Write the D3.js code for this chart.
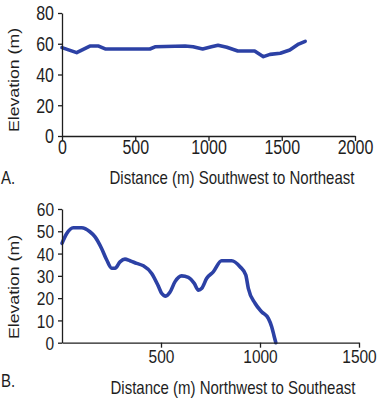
<!DOCTYPE html>
<html><head><meta charset="utf-8">
<script src="https://cdn.jsdelivr.net/npm/d3@7"></script>
<style>
html,body{margin:0;padding:0;background:#fff;}
svg{display:block;}
text{font-family:"Liberation Sans",Arial,sans-serif;fill:#1e1e1e;}
</style></head>
<body>
<svg id="c" width="380" height="400"></svg>
<script>
// Profile A: Southwest to Northeast
const distA = [0, 100, 190, 250, 295, 600, 635, 840, 895, 960, 1020, 1065, 1125, 1200, 1315, 1375, 1420, 1490, 1555, 1615, 1660];
const elevA = [57.5, 54.2, 58.5, 58.5, 56.6, 56.6, 58, 58.5, 58, 56.6, 58, 59, 57.7, 55.3, 55.3, 51.6, 53.1, 53.8, 55.9, 59.8, 61.6];
// Profile B: Northwest to Southeast
const distB = [0, 24, 57, 99, 141, 167, 200, 226, 251, 268, 293, 318, 343, 377, 411, 453, 486, 503, 524, 545, 571, 604, 638, 668, 689, 706, 731, 764, 806, 857, 899, 928, 941, 975, 1008, 1042, 1059, 1072, 1080];
const elevB = [44.6, 49, 51.6, 51.6, 49.8, 47.5, 42.3, 37.1, 33.4, 33.4, 36.3, 37.5, 36.8, 35.6, 34.5, 31.1, 25.5, 22.2, 20.9, 22.6, 27.4, 30, 29.3, 26.6, 23.6, 24.4, 28.9, 31.8, 36.8, 36.8, 34.1, 30.4, 24.4, 17.7, 13.9, 10.9, 7.2, 2.7, 0];
const ticksAX = [0, 500, 1000, 1500, 2000];
const ticksAY = [0, 20, 40, 60, 80];
const ticksBX = [500, 1000, 1500];
const ticksBY = [0, 10, 20, 30, 40, 50, 60];
const labelsA = {panel: "A.", x: "Distance (m) Southwest to Northeast", y: "Elevation (m)"};
const labelsB = {panel: "B.", x: "Distance (m) Northwest to Southeast", y: "Elevation (m)"};

const svg = d3.select("#c");
const LINE = "#2c41a5";
const FS = 15, SY = 1.22;

function panel(cfg) {
  const x = d3.scaleLinear().domain(cfg.xd).range(cfg.xr);
  const y = d3.scaleLinear().domain(cfg.yd).range(cfg.yr);
  const g = svg.append("g");
  // line
  const data = cfg.dist.map((d, i) => [d, cfg.elev[i]]);
  g.append("path").datum(data)
    .attr("fill", "none").attr("stroke", LINE).attr("stroke-width", 3.6)
    .attr("stroke-linejoin", "round").attr("stroke-linecap", "round")
    .attr("d", d3.line().x(d => x(d[0])).y(d => y(d[1])).curve(cfg.curve));
  // x axis
  const ax = g.append("g").attr("transform", `translate(0,${cfg.yr[0]})`)
    .call(d3.axisBottom(x).tickValues(cfg.xt).tickSizeInner(5).tickSizeOuter(0).tickFormat(d3.format("d")));
  ax.selectAll("text").attr("y", 0).attr("dy", 0)
    .attr("transform", `translate(0,${cfg.xlab}) scale(1,${SY})`)
    .style("font-size", cfg.tfs + "px").style("font-family", "Liberation Sans, Arial");
  // y axis
  const ay = g.append("g").attr("transform", `translate(${cfg.xr[0]},0)`)
    .call(d3.axisLeft(y).tickValues(cfg.yt).tickSizeInner(4).tickSizeOuter(0).tickPadding(4));
  ay.selectAll("text").attr("dy", "0.35em")
    .attr("transform", `scale(1,${SY})`)
    .style("font-size", cfg.tfs + "px").style("font-family", "Liberation Sans, Arial");
  [ax, ay].forEach(a => {
    a.selectAll("path,line").attr("stroke", "#1e1e1e").attr("stroke-width", 1.3);
  });
  // titles
  g.append("text").text(cfg.lab.x).attr("text-anchor", "middle")
    .attr("transform", `translate(${cfg.tx},${cfg.ty}) scale(1,${SY})`)
    .style("font-size", FS + "px");
  g.append("text").text(cfg.lab.panel)
    .attr("transform", `translate(1,${cfg.py}) scale(1,${SY})`)
    .style("font-size", FS + "px");
  g.append("text").text(cfg.lab.y).attr("text-anchor", "middle").attr("dy", "0.35em")
    .attr("transform", `translate(${cfg.ylx},${cfg.yly}) scale(1,1.18) rotate(-90)`)
    .style("font-size", FS + "px");
}

panel({dist: distA, elev: elevA, xd: [0, 2000], xr: [62, 355], yd: [0, 80], yr: [136, 13],
  xt: ticksAX, yt: ticksAY, xlab: 18, tfs: 16, tx: 232, ty: 184, py: 184, ylx: 13.5, yly: 80,
  lab: labelsA, curve: d3.curveLinear});
panel({dist: distB, elev: elevB, xd: [0, 1500], xr: [62, 359], yd: [0, 60], yr: [342.7, 209],
  xt: ticksBX, yt: ticksBY, xlab: 20.5, tfs: 15.5, tx: 233, ty: 393.5, py: 386.5, ylx: 14, yly: 287,
  lab: labelsB, curve: d3.curveMonotoneX});
</script>
</body></html>
